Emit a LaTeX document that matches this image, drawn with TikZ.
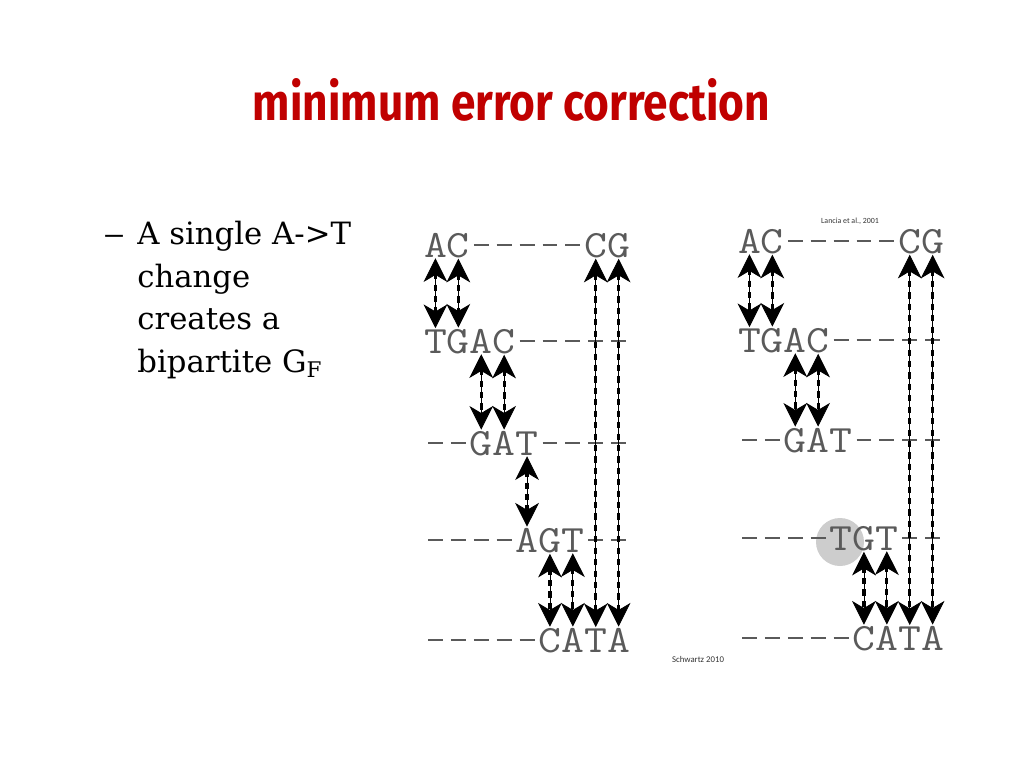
\documentclass[tikz,border=0pt]{standalone}
\usepackage{fontspec}
\usepackage{graphicx}
\usetikzlibrary{arrows.meta}
\newfontfamily\itemfont{DejaVu Serif}
\newfontfamily\titlefont{Fira Sans}
\newfontfamily\notefont{Carlito}
\definecolor{titlered}{RGB}{192,0,0}
\definecolor{seqgray}{RGB}{90,90,90}
\definecolor{hlgray}{RGB}{205,205,205}

\begin{document}
\begin{tikzpicture}[x=0.02cm,y=-0.02cm,>=Stealth,line join=round,
    seqchar/.style={inner sep=0pt,anchor=base,text=seqgray,font=\fontsize{22}{22}\selectfont\ttfamily},
    rowdash/.style={seqgray,line width=0.9pt},
    pairlink/.style={line width=0.5pt,{Stealth[length=13.5pt,width=13.5pt,inset=4pt]}-{Stealth[length=13.5pt,width=13.5pt,inset=4pt]},
      shorten <=0.5pt,shorten >=0.5pt,
      postaction={draw,line width=1.8pt,dash pattern=on 3.5pt off 3pt,arrows=-,shorten <=9pt,shorten >=9pt}}]
  \useasboundingbox (0,0) rectangle (1024,768);

  % title and bullet
  \node[inner sep=0pt,anchor=base,text=titlered] (title) at (511.5,120)
    {\resizebox{10.34cm}{0.84cm}{\titlefont\bfseries minimum error correction}};
  \node[inner sep=0pt,anchor=base west,font=\itemfont\fontsize{17.5}{24.2}\selectfont] (dash) at (103,244) {\scalebox{1.4}[1]{–}};
  \node[inner sep=0pt,anchor=north west,align=left,font=\itemfont\fontsize{17.5}{24.2}\selectfont] (item) at (137,221)
    {A single A->T\\change\\creates a\\bipartite G\textsubscript{F}};

  % changed base
  \fill[hlgray] (840,542) circle (24);

  % fragments
  \foreach \p/\xo/\r/\yb/\seq in {
      l/424/1/257/{A,C,-,-,-,-,-,C,G}, l/424/2/353/{T,G,A,C,-,-,-,-,-},
      l/424/3/455/{-,-,G,A,T,-,-,-,-}, l/424/4/552/{-,-,-,-,A,G,T,-,-},
      l/424/5/652/{-,-,-,-,-,C,A,T,A},
      r/738/1/253/{A,C,-,-,-,-,-,C,G}, r/738/2/352/{T,G,A,C,-,-,-,-,-},
      r/738/3/452/{-,-,G,A,T,-,-,-,-}, r/738/4/550/{-,-,-,-,T,G,T,-,-},
      r/738/5/650/{-,-,-,-,-,C,A,T,A}}{
    \foreach \ch [count=\col from 0] in \seq {
      \if\ch-
        \draw[rowdash] ({\xo+\col*22.9+4},{\yb-12}) -- ({\xo+(\col+1)*22.9-4},{\yb-12});
      \else
        \node[seqchar] (\p\r-\col) at ({\xo+(\col+0.5)*22.9},\yb) {\scalebox{1.15}[1]{\ch}};
      \fi
    }
  }

  % fragment conflict edges
  \foreach \p/\col/\a/\b in {l/0/1/2,l/1/1/2,l/2/2/3,l/3/2/3,l/4/3/4,l/5/4/5,l/6/4/5,l/7/1/5,l/8/1/5,
      r/0/1/2,r/1/1/2,r/2/2/3,r/3/2/3,r/5/4/5,r/6/4/5,r/7/1/5,r/8/1/5}
    \draw[pairlink] (\p\a-\col) -- (\p\b-\col);

  \node[font=\notefont\fontsize{4.5}{5}\selectfont,text=black!80] (lancia) at (850,221) {Lancia et al., 2001};
  \node[font=\notefont\fontsize{5}{6}\selectfont,text=black!80] (schwartz) at (698,659) {Schwartz 2010};
\end{tikzpicture}
\end{document}
